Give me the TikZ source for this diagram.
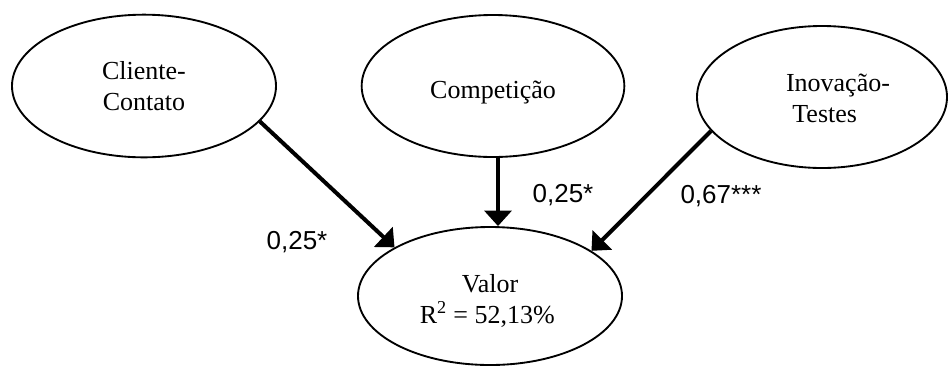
\documentclass[tikz,border=0pt]{standalone}
\usepackage{fontspec}
\setmainfont{Liberation Serif}
\newfontfamily\labelfont{Liberation Sans}
\usetikzlibrary{shapes.geometric,arrows.meta}

% move a line of text without changing its box
\newcommand{\nudge}[3]{\raisebox{#2}[\height][\depth]{\hspace*{#1}#3\hspace*{-#1}}}

\begin{document}
\begin{tikzpicture}[x=0.75pt,y=-0.75pt,
  construct/.style={ellipse, draw, line width=1.4pt, inner sep=0pt,
    align=center, font=\fontsize{19.5}{23.3}\selectfont},
  path/.style={line width=3pt, -{Triangle[length=11.5pt,width=20pt]}},
  coef/.style={anchor=base, inner sep=0pt, font=\labelfont\fontsize{19.5}{23.3}\selectfont}]
  \useasboundingbox (0,0) rectangle (949,365);

  % latent constructs
  \node[construct, minimum width=198pt, minimum height=107pt] (cli) at (144,86) {Cliente-\\Contato};
  \node[construct, minimum width=197pt, minimum height=106.5pt] (comp) at (493,86)
    {\nudge{0pt}{-5pt}{Competição}};
  \node[construct, minimum width=187.5pt, minimum height=106.5pt] (inov) at (822,97)
    {\nudge{12pt}{-1pt}{Inovação-}\\\nudge{2pt}{-1pt}{Testes}};
  \node[construct, minimum width=198pt, minimum height=103.5pt] (val) at (490,296)
    {\nudge{0pt}{-3.5pt}{Valor}\\\nudge{-2pt}{-3.5pt}{R\textsuperscript{2} = 52,13\%}};

  % structural paths
  \draw[path] (cli.-17.5) -- (val.153.7);
  \draw[path] ([xshift=3.75pt]comp.south) -- ([xshift=3.75pt]comp.south |- val.north);
  \draw[path] (inov.197) -- (val.24.7);

  % path coefficients
  \node[coef] (k1) at (297,249) {0,25*};
  \node[coef] (k2) at (563,202) {0,25*};
  \node[coef] (k3) at (721,203) {0,67***};
\end{tikzpicture}
\end{document}
